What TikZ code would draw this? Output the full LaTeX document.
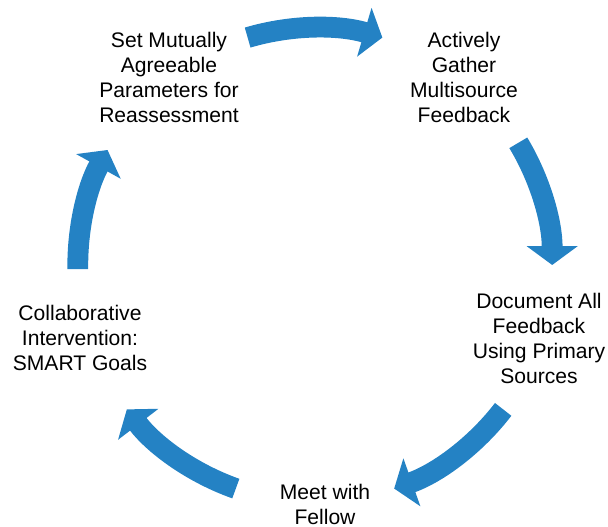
\documentclass[tikz,border=0pt]{standalone}
\usepackage{fontspec}
\setmainfont{Liberation Sans}
\usetikzlibrary{arrows.meta}
\definecolor{cycleblue}{RGB}{36,130,196}

\begin{document}
\begin{tikzpicture}[
	step text/.style={align=center,font=\fontsize{15}{17.8}\selectfont},
	flow/.style={cycleblue,line width=0.52cm,-{Triangle[width=1.25cm,length=0.47cm]}}]
\useasboundingbox (-7.875,-6.55) rectangle (7.325,6.625);
\newcommand{\RR}{5.93}
% text of the five steps
\node[step text] (params) at (-3.65,4.69) {Set Mutually\\Agreeable\\Parameters for\\Reassessment};
\node[step text] (gather) at (3.725,4.69) {Actively\\Gather\\Multisource\\Feedback};
\node[step text] (document) at (5.6,-1.84) {Document All\\Feedback\\Using Primary\\Sources};
\node[step text] (meet) at (0.25,-5.975) {Meet with\\Fellow};
\node[step text] (intervene) at (-5.875,-1.825) {Collaborative\\Intervention:\\SMART Goals};
% curved arrows round the cycle (centre angle / half span)
\foreach \a/\s in {90/16.5,15.5/15.5,-54/16.5,-126/16.5,166/15}
{
	\draw[flow] (\a+\s:\RR) arc[start angle=\a+\s, end angle=\a-\s, radius=\RR];
}
\end{tikzpicture}
\end{document}
